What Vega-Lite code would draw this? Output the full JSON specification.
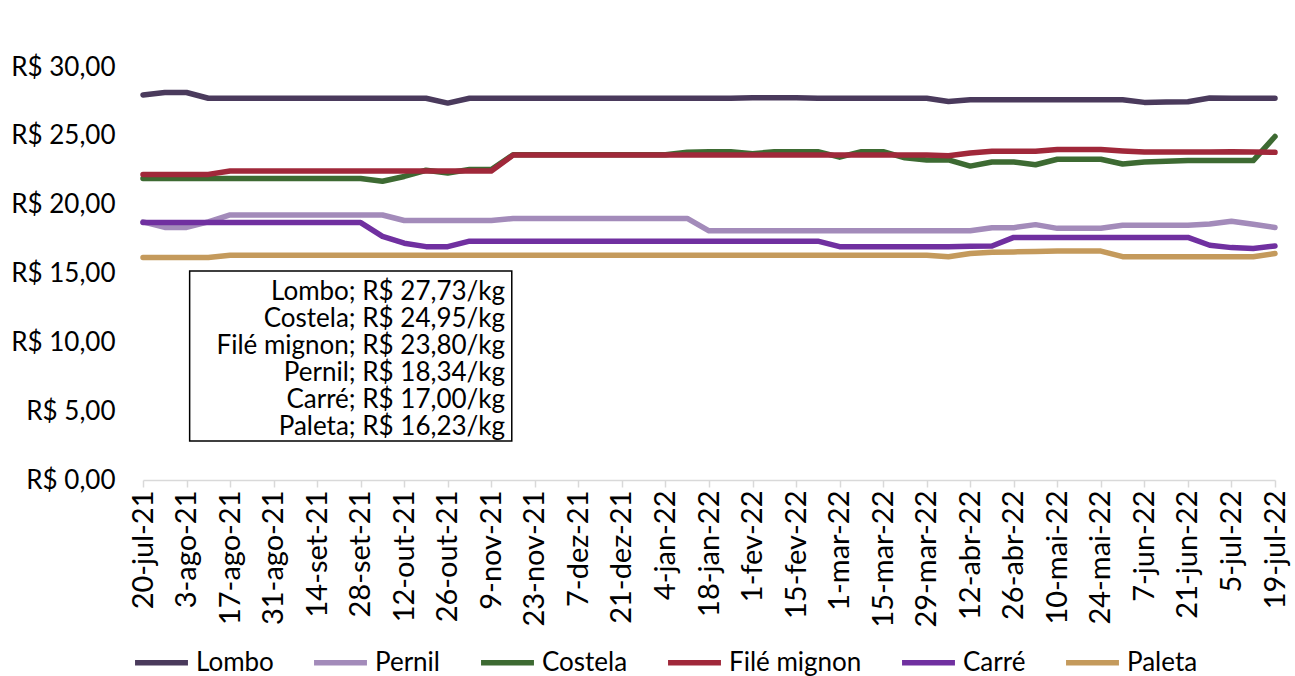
{
  "$schema": "https://vega.github.io/schema/vega-lite/v6.json",
  "autosize": "none",
  "width": 1132,
  "height": 413,
  "padding": {"left": 143, "top": 67, "right": 20, "bottom": 196},
  "background": "white",
  "config": {
    "view": {"stroke": null},
    "font": "Lato",
    "text": {"font": "Lato"}
  },
  "datasets": {
    "precos": [
      {"d": "2021-07-20", "Lombo": 27.97, "Pernil": 18.75, "Costela": 21.9, "Filé mignon": 22.2, "Carré": 18.7, "Paleta": 16.17},
      {"d": "2021-07-27", "Lombo": 28.15, "Pernil": 18.35, "Costela": 21.9, "Filé mignon": 22.2, "Carré": 18.7, "Paleta": 16.17},
      {"d": "2021-08-03", "Lombo": 28.15, "Pernil": 18.35, "Costela": 21.9, "Filé mignon": 22.2, "Carré": 18.7, "Paleta": 16.17},
      {"d": "2021-08-10", "Lombo": 27.73, "Pernil": 18.75, "Costela": 21.9, "Filé mignon": 22.2, "Carré": 18.7, "Paleta": 16.17},
      {"d": "2021-08-17", "Lombo": 27.73, "Pernil": 19.25, "Costela": 21.9, "Filé mignon": 22.45, "Carré": 18.7, "Paleta": 16.33},
      {"d": "2021-08-24", "Lombo": 27.73, "Pernil": 19.25, "Costela": 21.9, "Filé mignon": 22.45, "Carré": 18.7, "Paleta": 16.33},
      {"d": "2021-08-31", "Lombo": 27.73, "Pernil": 19.25, "Costela": 21.9, "Filé mignon": 22.45, "Carré": 18.7, "Paleta": 16.33},
      {"d": "2021-09-07", "Lombo": 27.73, "Pernil": 19.25, "Costela": 21.9, "Filé mignon": 22.45, "Carré": 18.7, "Paleta": 16.33},
      {"d": "2021-09-14", "Lombo": 27.73, "Pernil": 19.25, "Costela": 21.9, "Filé mignon": 22.45, "Carré": 18.7, "Paleta": 16.33},
      {"d": "2021-09-21", "Lombo": 27.73, "Pernil": 19.25, "Costela": 21.9, "Filé mignon": 22.45, "Carré": 18.7, "Paleta": 16.33},
      {"d": "2021-09-28", "Lombo": 27.73, "Pernil": 19.25, "Costela": 21.9, "Filé mignon": 22.45, "Carré": 18.7, "Paleta": 16.33},
      {"d": "2021-10-05", "Lombo": 27.73, "Pernil": 19.25, "Costela": 21.7, "Filé mignon": 22.45, "Carré": 17.7, "Paleta": 16.33},
      {"d": "2021-10-12", "Lombo": 27.73, "Pernil": 18.85, "Costela": 22.05, "Filé mignon": 22.45, "Carré": 17.2, "Paleta": 16.33},
      {"d": "2021-10-19", "Lombo": 27.73, "Pernil": 18.85, "Costela": 22.5, "Filé mignon": 22.45, "Carré": 16.95, "Paleta": 16.33},
      {"d": "2021-10-26", "Lombo": 27.38, "Pernil": 18.85, "Costela": 22.3, "Filé mignon": 22.45, "Carré": 16.95, "Paleta": 16.33},
      {"d": "2021-11-02", "Lombo": 27.73, "Pernil": 18.85, "Costela": 22.55, "Filé mignon": 22.45, "Carré": 17.35, "Paleta": 16.33},
      {"d": "2021-11-09", "Lombo": 27.73, "Pernil": 18.85, "Costela": 22.55, "Filé mignon": 22.45, "Carré": 17.35, "Paleta": 16.33},
      {"d": "2021-11-16", "Lombo": 27.73, "Pernil": 19.0, "Costela": 23.62, "Filé mignon": 23.6, "Carré": 17.35, "Paleta": 16.33},
      {"d": "2021-11-23", "Lombo": 27.73, "Pernil": 19.0, "Costela": 23.62, "Filé mignon": 23.6, "Carré": 17.35, "Paleta": 16.33},
      {"d": "2021-11-30", "Lombo": 27.73, "Pernil": 19.0, "Costela": 23.62, "Filé mignon": 23.6, "Carré": 17.35, "Paleta": 16.33},
      {"d": "2021-12-07", "Lombo": 27.73, "Pernil": 19.0, "Costela": 23.62, "Filé mignon": 23.6, "Carré": 17.35, "Paleta": 16.33},
      {"d": "2021-12-14", "Lombo": 27.73, "Pernil": 19.0, "Costela": 23.62, "Filé mignon": 23.6, "Carré": 17.35, "Paleta": 16.33},
      {"d": "2021-12-21", "Lombo": 27.73, "Pernil": 19.0, "Costela": 23.62, "Filé mignon": 23.6, "Carré": 17.35, "Paleta": 16.33},
      {"d": "2021-12-28", "Lombo": 27.73, "Pernil": 19.0, "Costela": 23.62, "Filé mignon": 23.6, "Carré": 17.35, "Paleta": 16.33},
      {"d": "2022-01-04", "Lombo": 27.73, "Pernil": 19.0, "Costela": 23.62, "Filé mignon": 23.6, "Carré": 17.35, "Paleta": 16.33},
      {"d": "2022-01-11", "Lombo": 27.73, "Pernil": 19.0, "Costela": 23.8, "Filé mignon": 23.6, "Carré": 17.35, "Paleta": 16.33},
      {"d": "2022-01-18", "Lombo": 27.73, "Pernil": 18.1, "Costela": 23.85, "Filé mignon": 23.6, "Carré": 17.35, "Paleta": 16.33},
      {"d": "2022-01-25", "Lombo": 27.73, "Pernil": 18.1, "Costela": 23.85, "Filé mignon": 23.6, "Carré": 17.35, "Paleta": 16.33},
      {"d": "2022-02-01", "Lombo": 27.77, "Pernil": 18.1, "Costela": 23.7, "Filé mignon": 23.6, "Carré": 17.35, "Paleta": 16.33},
      {"d": "2022-02-08", "Lombo": 27.77, "Pernil": 18.1, "Costela": 23.85, "Filé mignon": 23.6, "Carré": 17.35, "Paleta": 16.33},
      {"d": "2022-02-15", "Lombo": 27.77, "Pernil": 18.1, "Costela": 23.85, "Filé mignon": 23.6, "Carré": 17.35, "Paleta": 16.33},
      {"d": "2022-02-22", "Lombo": 27.73, "Pernil": 18.1, "Costela": 23.85, "Filé mignon": 23.6, "Carré": 17.35, "Paleta": 16.33},
      {"d": "2022-03-01", "Lombo": 27.73, "Pernil": 18.1, "Costela": 23.45, "Filé mignon": 23.6, "Carré": 16.95, "Paleta": 16.33},
      {"d": "2022-03-08", "Lombo": 27.73, "Pernil": 18.1, "Costela": 23.85, "Filé mignon": 23.6, "Carré": 16.95, "Paleta": 16.33},
      {"d": "2022-03-15", "Lombo": 27.73, "Pernil": 18.1, "Costela": 23.85, "Filé mignon": 23.6, "Carré": 16.95, "Paleta": 16.33},
      {"d": "2022-03-22", "Lombo": 27.73, "Pernil": 18.1, "Costela": 23.4, "Filé mignon": 23.6, "Carré": 16.95, "Paleta": 16.33},
      {"d": "2022-03-29", "Lombo": 27.73, "Pernil": 18.1, "Costela": 23.25, "Filé mignon": 23.6, "Carré": 16.95, "Paleta": 16.33},
      {"d": "2022-04-05", "Lombo": 27.5, "Pernil": 18.1, "Costela": 23.25, "Filé mignon": 23.55, "Carré": 16.95, "Paleta": 16.22},
      {"d": "2022-04-12", "Lombo": 27.62, "Pernil": 18.1, "Costela": 22.8, "Filé mignon": 23.75, "Carré": 16.98, "Paleta": 16.45},
      {"d": "2022-04-19", "Lombo": 27.62, "Pernil": 18.33, "Costela": 23.1, "Filé mignon": 23.88, "Carré": 17.0, "Paleta": 16.55},
      {"d": "2022-04-26", "Lombo": 27.62, "Pernil": 18.33, "Costela": 23.1, "Filé mignon": 23.88, "Carré": 17.62, "Paleta": 16.57},
      {"d": "2022-05-03", "Lombo": 27.62, "Pernil": 18.55, "Costela": 22.9, "Filé mignon": 23.88, "Carré": 17.62, "Paleta": 16.6},
      {"d": "2022-05-10", "Lombo": 27.62, "Pernil": 18.28, "Costela": 23.3, "Filé mignon": 24.0, "Carré": 17.62, "Paleta": 16.63},
      {"d": "2022-05-17", "Lombo": 27.62, "Pernil": 18.28, "Costela": 23.3, "Filé mignon": 24.0, "Carré": 17.62, "Paleta": 16.63},
      {"d": "2022-05-24", "Lombo": 27.62, "Pernil": 18.28, "Costela": 23.3, "Filé mignon": 24.0, "Carré": 17.62, "Paleta": 16.63},
      {"d": "2022-05-31", "Lombo": 27.62, "Pernil": 18.5, "Costela": 22.95, "Filé mignon": 23.9, "Carré": 17.62, "Paleta": 16.22},
      {"d": "2022-06-07", "Lombo": 27.43, "Pernil": 18.5, "Costela": 23.1, "Filé mignon": 23.82, "Carré": 17.62, "Paleta": 16.22},
      {"d": "2022-06-14", "Lombo": 27.45, "Pernil": 18.5, "Costela": 23.15, "Filé mignon": 23.82, "Carré": 17.62, "Paleta": 16.22},
      {"d": "2022-06-21", "Lombo": 27.47, "Pernil": 18.5, "Costela": 23.2, "Filé mignon": 23.82, "Carré": 17.62, "Paleta": 16.22},
      {"d": "2022-06-28", "Lombo": 27.75, "Pernil": 18.6, "Costela": 23.2, "Filé mignon": 23.82, "Carré": 17.05, "Paleta": 16.22},
      {"d": "2022-07-05", "Lombo": 27.73, "Pernil": 18.8, "Costela": 23.2, "Filé mignon": 23.85, "Carré": 16.88, "Paleta": 16.22},
      {"d": "2022-07-12", "Lombo": 27.73, "Pernil": 18.58, "Costela": 23.2, "Filé mignon": 23.83, "Carré": 16.82, "Paleta": 16.22},
      {"d": "2022-07-19", "Lombo": 27.73, "Pernil": 18.34, "Costela": 24.95, "Filé mignon": 23.8, "Carré": 17.0, "Paleta": 16.45}
    ],
    "caixa": [
      {"linhas": ["Lombo; R$ 27,73/kg", "Costela; R$ 24,95/kg", "Filé mignon; R$ 23,80/kg", "Pernil; R$ 18,34/kg", "Carré; R$ 17,00/kg", "Paleta; R$ 16,23/kg"]}
    ]
  },
  "layer": [
    {
      "data": {"name": "precos"},
      "transform": [
        {"fold": ["Lombo", "Pernil", "Costela", "Filé mignon", "Carré", "Paleta"], "as": ["produto", "preco"]}
      ],
      "mark": {"type": "line", "strokeWidth": 5.5, "strokeCap": "round", "strokeJoin": "round"},
      "encoding": {
        "x": {
          "field": "d",
          "type": "temporal",
          "scale": {
            "type": "utc",
            "nice": false,
            "domain": [
              {"year": 2021, "month": 7, "date": 20, "utc": true},
              {"year": 2022, "month": 7, "date": 19, "utc": true}
            ]
          },
          "axis": {
            "title": null,
            "grid": false,
            "domainColor": "#D9D9D9",
            "domainWidth": 1.5,
            "tickColor": "#D9D9D9",
            "tickWidth": 1.5,
            "tickSize": 7,
            "labelAngle": -90,
            "labelFont": "Lato",
            "labelFontSize": 29,
            "labelColor": "#000000",
            "labelPadding": 3,
            "labelOverlap": false,
            "labelBound": false,
            "labelFlush": false,
            "values": [
              {"year": 2021, "month": 7, "date": 20, "utc": true},
              {"year": 2021, "month": 8, "date": 3, "utc": true},
              {"year": 2021, "month": 8, "date": 17, "utc": true},
              {"year": 2021, "month": 8, "date": 31, "utc": true},
              {"year": 2021, "month": 9, "date": 14, "utc": true},
              {"year": 2021, "month": 9, "date": 28, "utc": true},
              {"year": 2021, "month": 10, "date": 12, "utc": true},
              {"year": 2021, "month": 10, "date": 26, "utc": true},
              {"year": 2021, "month": 11, "date": 9, "utc": true},
              {"year": 2021, "month": 11, "date": 23, "utc": true},
              {"year": 2021, "month": 12, "date": 7, "utc": true},
              {"year": 2021, "month": 12, "date": 21, "utc": true},
              {"year": 2022, "month": 1, "date": 4, "utc": true},
              {"year": 2022, "month": 1, "date": 18, "utc": true},
              {"year": 2022, "month": 2, "date": 1, "utc": true},
              {"year": 2022, "month": 2, "date": 15, "utc": true},
              {"year": 2022, "month": 3, "date": 1, "utc": true},
              {"year": 2022, "month": 3, "date": 15, "utc": true},
              {"year": 2022, "month": 3, "date": 29, "utc": true},
              {"year": 2022, "month": 4, "date": 12, "utc": true},
              {"year": 2022, "month": 4, "date": 26, "utc": true},
              {"year": 2022, "month": 5, "date": 10, "utc": true},
              {"year": 2022, "month": 5, "date": 24, "utc": true},
              {"year": 2022, "month": 6, "date": 7, "utc": true},
              {"year": 2022, "month": 6, "date": 21, "utc": true},
              {"year": 2022, "month": 7, "date": 5, "utc": true},
              {"year": 2022, "month": 7, "date": 19, "utc": true}
            ],
            "labelExpr": "utcFormat(datum.value, '%-d') + '-' + ['jan','fev','mar','abr','mai','jun','jul','ago','set','out','nov','dez'][utcmonth(datum.value)] + '-' + utcFormat(datum.value, '%y')"
          }
        },
        "y": {
          "field": "preco",
          "type": "quantitative",
          "scale": {"domain": [0, 30], "nice": false, "zero": true},
          "axis": {
            "title": null,
            "grid": false,
            "domain": false,
            "ticks": false,
            "tickSize": 0,
            "values": [0, 5, 10, 15, 20, 25, 30],
            "labelFont": "Lato",
            "labelFontSize": 26,
            "labelColor": "#000000",
            "labelPadding": 28,
            "labelExpr": "'R$ ' + replace(format(datum.value, '.2f'), '.', ',')"
          }
        },
        "color": {
          "field": "produto",
          "type": "nominal",
          "sort": ["Lombo", "Pernil", "Costela", "Filé mignon", "Carré", "Paleta"],
          "scale": {
            "domain": ["Lombo", "Pernil", "Costela", "Filé mignon", "Carré", "Paleta"],
            "range": ["#4A3A5C", "#A38BBA", "#3D6A32", "#A0283A", "#7030A0", "#C49A5C"]
          },
          "legend": {
            "title": null,
            "orient": "none",
            "direction": "horizontal",
            "legendX": -11,
            "legendY": 566,
            "symbolType": "stroke",
            "symbolSize": 2800,
            "symbolStrokeWidth": 5.5,
            "labelFont": "Lato",
            "labelFontSize": 26,
            "labelColor": "#000000",
            "labelOffset": 5,
            "columnPadding": 29
          }
        }
      }
    },
    {
      "data": {"name": "caixa"},
      "mark": {"type": "rect", "fill": "white", "stroke": "black", "strokeWidth": 1.5},
      "encoding": {
        "x": {"datum": {"year": 2021, "month": 8, "date": 4, "utc": true}, "type": "temporal"},
        "x2": {"datum": {"year": 2021, "month": 11, "date": 15, "hours": 14, "utc": true}},
        "y": {"datum": 15.18, "type": "quantitative"},
        "y2": {"datum": 2.83}
      }
    },
    {
      "data": {"name": "caixa"},
      "mark": {"type": "text", "align": "right", "baseline": "top", "font": "Lato", "fontSize": 26, "lineHeight": 27, "color": "black"},
      "encoding": {
        "x": {"datum": {"year": 2021, "month": 11, "date": 13, "hours": 10, "utc": true}, "type": "temporal"},
        "y": {"datum": 14.6, "type": "quantitative"},
        "text": {"field": "linhas", "type": "nominal"}
      }
    }
  ]
}
